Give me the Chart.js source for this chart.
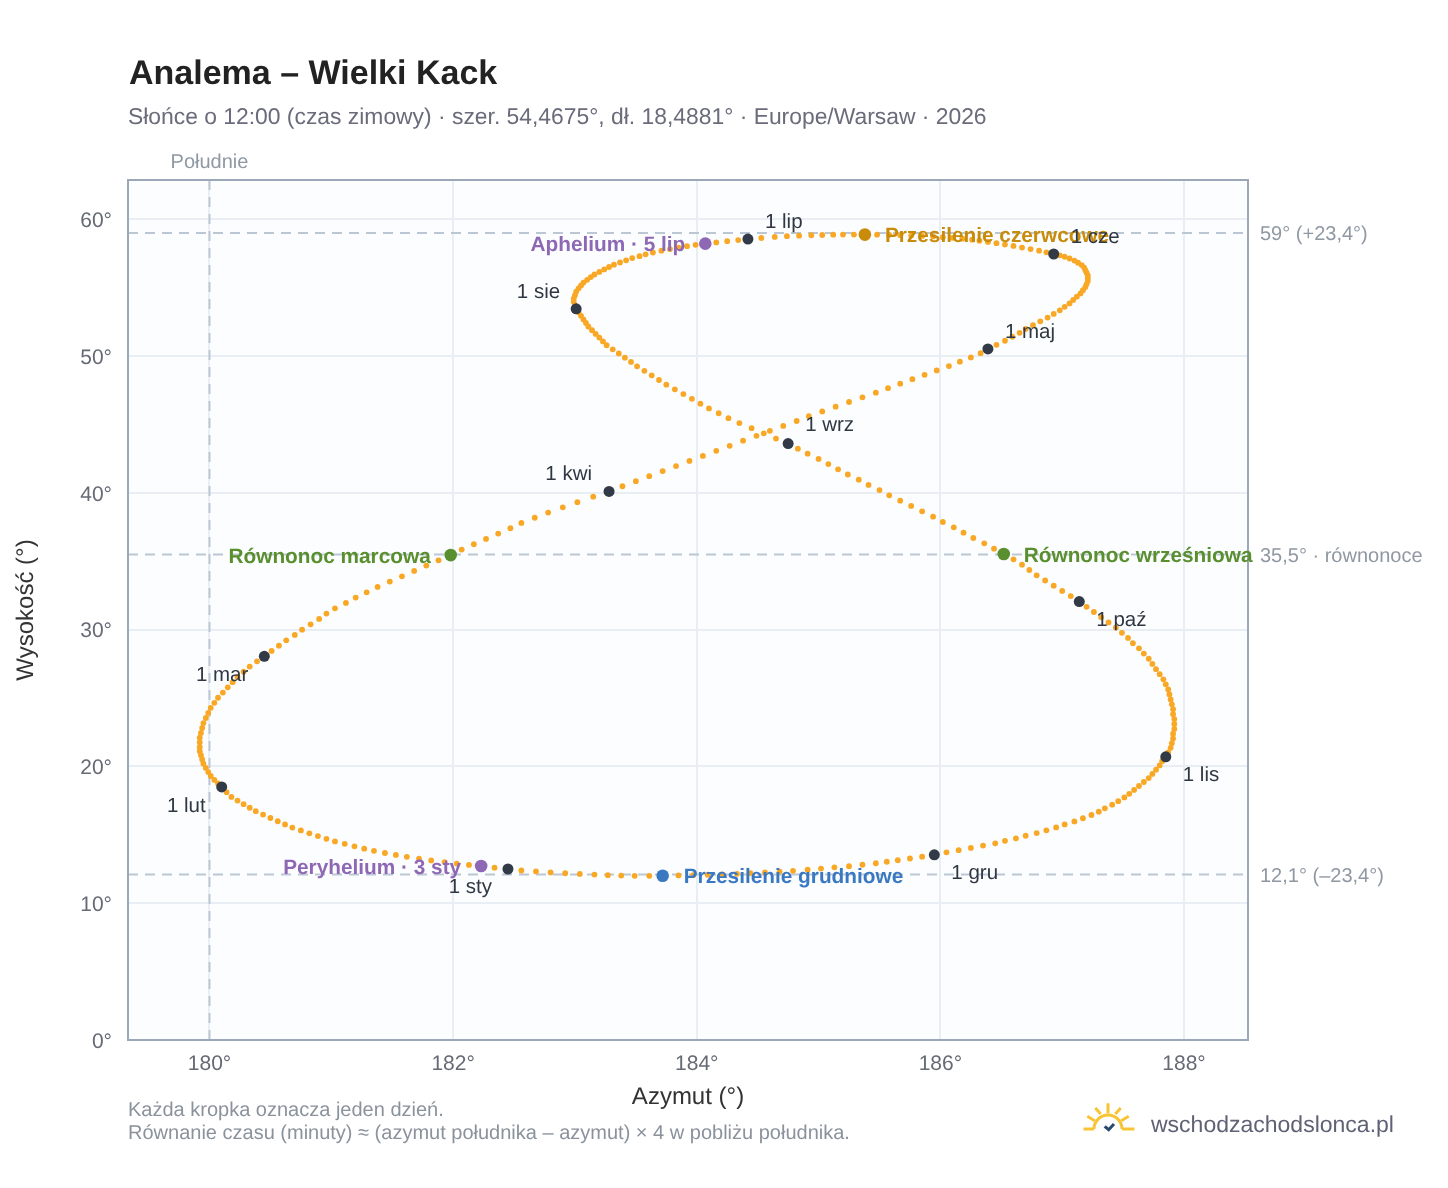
<!DOCTYPE html>
<html lang="pl">
<head>
<meta charset="utf-8">
<title>Analema – Wielki Kack</title>
<script src="https://cdn.jsdelivr.net/npm/chart.js@4/dist/chart.umd.min.js"></script>
<style>
  html, body { margin: 0; padding: 0; background: #ffffff; }
  body { width: 1448px; height: 1188px; position: relative; overflow: hidden; font-family: "Liberation Sans", Arial, sans-serif; text-rendering: geometricPrecision; }
  canvas { position: absolute; left: 0; top: 0; }
  .t { position: absolute; white-space: nowrap; line-height: 1; }
  #title { left: 129px; top: 56px; font-size: 34px; font-weight: 700; color: #222222; }
  #subtitle { left: 128px; top: 105px; font-size: 22.87px; color: #6b6c7b; }
  #note1 { left: 128px; top: 1100px; font-size: 20px; color: #8a929c; }
  #note2 { left: 128px; top: 1123px; font-size: 20px; color: #8a929c; }
  #brand { left: 1151px; top: 1113px; font-size: 23px; color: #5f6275; }
  #logo { position: absolute; left: 1080px; top: 1100px; }
</style>
</head>
<body>
<canvas id="chart" width="1448" height="1188"></canvas>
<div class="t" id="title">Analema – Wielki Kack</div>
<div class="t" id="subtitle">Słońce o 12:00 (czas zimowy) · szer. 54,4675°, dł. 18,4881° · Europe/Warsaw · 2026</div>
<div class="t" id="note1">Każda kropka oznacza jeden dzień.</div>
<div class="t" id="note2">Równanie czasu (minuty) ≈ (azymut południka – azymut) × 4 w pobliżu południka.</div>
<svg id="logo" width="60" height="36" viewBox="0 0 60 36" fill="none" stroke="#f9c433" stroke-width="3">
  <path d="M3.5 29H14M42 29H54.5M14 29A14 14 0 0 1 42 29"/>
  <path d="M28 3.3V13.3M15.3 8L20.7 14M40.7 8L35.3 14M7.3 16.3L14.7 20.7M48.7 16.3L41.3 20.7"/>
  <path d="M24.7 26.3L28.7 29.7L34 24" stroke="#2a4a6b"/>
</svg>
<div class="t" id="brand">wschodzachodslonca.pl</div>
<script>
// Solar azimuth at 12:00 winter time, one value per day of 2026 (January to December).
const azimuth = [
  182.45,182.34,182.23,182.13,182.03,181.93,181.82,181.72,181.62,181.53,181.44,181.35,181.27,181.19,181.11,181.03,180.96,180.89,180.82,180.75,180.68,180.62,180.56,180.50,180.44,180.38,180.33,180.28,180.23,180.18,180.14,
  180.10,180.07,180.04,180.01,179.99,179.97,179.95,179.94,179.93,179.92,179.92,179.92,179.92,179.93,179.94,179.95,179.97,179.99,180.01,180.04,180.07,180.11,180.15,180.19,180.23,180.28,180.33,180.39,
  180.45,180.51,180.57,180.63,180.70,180.76,180.83,180.90,180.96,181.03,181.12,181.20,181.29,181.38,181.48,181.58,181.68,181.78,181.88,181.98,182.07,182.17,182.27,182.37,182.47,182.56,182.67,182.78,182.90,183.02,183.15,
  183.28,183.39,183.50,183.61,183.72,183.83,183.94,184.05,184.16,184.27,184.38,184.49,184.60,184.71,184.82,184.92,185.03,185.14,185.25,185.36,185.47,185.57,185.67,185.77,185.87,185.97,186.07,186.16,186.25,186.33,
  186.39,186.46,186.53,186.59,186.65,186.70,186.76,186.82,186.88,186.93,186.98,187.02,187.06,187.09,187.12,187.15,187.17,187.19,187.20,187.21,187.21,187.21,187.20,187.19,187.18,187.16,187.13,187.10,187.06,187.02,186.98,
  186.93,186.87,186.81,186.74,186.67,186.60,186.53,186.46,186.39,186.32,186.26,186.18,186.10,186.02,185.94,185.85,185.76,185.67,185.58,185.48,185.38,185.29,185.20,185.12,185.03,184.94,184.84,184.74,184.64,184.53,
  184.42,184.34,184.25,184.16,184.07,183.99,183.92,183.85,183.78,183.71,183.64,183.58,183.53,183.47,183.42,183.37,183.32,183.28,183.24,183.20,183.16,183.13,183.10,183.07,183.05,183.03,183.01,183.00,182.99,182.99,183.00,
  183.01,183.03,183.05,183.07,183.09,183.11,183.14,183.17,183.20,183.23,183.26,183.31,183.36,183.41,183.46,183.51,183.57,183.63,183.69,183.75,183.82,183.89,183.96,184.03,184.10,184.18,184.26,184.35,184.45,184.55,184.65,
  184.75,184.83,184.91,185.00,185.08,185.16,185.24,185.33,185.41,185.50,185.58,185.67,185.76,185.85,185.94,186.02,186.11,186.19,186.27,186.36,186.44,186.52,186.60,186.67,186.73,186.79,186.86,186.93,187.00,187.07,
  187.14,187.20,187.26,187.32,187.38,187.44,187.49,187.54,187.58,187.63,187.67,187.71,187.74,187.77,187.80,187.83,187.85,187.87,187.88,187.89,187.90,187.91,187.91,187.92,187.92,187.92,187.91,187.91,187.90,187.89,187.87,
  187.85,187.82,187.80,187.77,187.74,187.71,187.67,187.63,187.59,187.55,187.51,187.46,187.41,187.35,187.30,187.24,187.17,187.10,187.02,186.95,186.87,186.79,186.70,186.62,186.53,186.45,186.35,186.25,186.15,186.05,
  185.95,185.85,185.75,185.65,185.56,185.47,185.36,185.25,185.13,185.02,184.91,184.79,184.68,184.56,184.44,184.33,184.21,184.09,183.97,183.85,183.72,183.61,183.49,183.38,183.27,183.16,183.04,182.92,182.80,182.68,182.56
];

// Solar altitude for the same days.
const altitude = [
  12.50,12.60,12.72,12.80,12.90,13.01,13.13,13.26,13.39,13.53,13.67,13.83,13.99,14.16,14.34,14.52,14.71,14.91,15.11,15.32,15.53,15.76,15.99,16.23,16.48,16.73,16.98,17.24,17.50,17.77,18.12,
  18.50,18.75,19.01,19.30,19.59,19.89,20.20,20.51,20.82,21.11,21.40,21.75,22.10,22.45,22.81,23.17,23.54,23.91,24.28,24.65,25.02,25.40,25.78,26.16,26.54,26.92,27.30,27.68,
  28.05,28.44,28.83,29.22,29.61,30.00,30.39,30.78,31.17,31.56,31.95,32.34,32.73,33.12,33.51,33.90,34.29,34.68,35.07,35.45,35.85,36.24,36.63,37.02,37.41,37.80,38.18,38.56,38.94,39.32,39.72,
  40.10,40.48,40.85,41.22,41.59,41.96,42.33,42.70,43.07,43.44,43.81,44.17,44.53,44.89,45.25,45.60,45.95,46.30,46.64,46.98,47.32,47.65,47.98,48.31,48.63,48.95,49.27,49.59,49.90,50.21,
  50.52,50.82,51.12,51.41,51.70,51.98,52.26,52.54,52.81,53.08,53.34,53.60,53.85,54.10,54.34,54.58,54.81,55.04,55.26,55.48,55.69,55.89,56.09,56.28,56.47,56.65,56.82,56.98,57.13,57.26,57.36,
  57.46,57.58,57.70,57.82,57.93,58.05,58.15,58.25,58.34,58.43,58.51,58.58,58.64,58.69,58.74,58.78,58.81,58.84,58.86,58.87,58.88,58.88,58.88,58.87,58.85,58.83,58.80,58.76,58.71,58.63,
  58.55,58.48,58.40,58.31,58.22,58.13,58.03,57.93,57.82,57.70,57.57,57.44,57.30,57.16,57.00,56.84,56.68,56.51,56.33,56.15,55.96,55.77,55.57,55.37,55.16,54.95,54.70,54.45,54.20,53.95,53.70,
  53.45,53.20,52.94,52.68,52.42,52.16,51.89,51.62,51.35,51.07,50.79,50.49,50.19,49.88,49.57,49.25,48.92,48.59,48.25,47.91,47.57,47.22,46.87,46.52,46.17,45.82,45.46,45.10,44.73,44.35,43.97,
  43.60,43.23,42.86,42.48,42.10,41.72,41.34,40.96,40.58,40.20,39.82,39.43,39.04,38.65,38.26,37.87,37.48,37.09,36.70,36.31,35.92,35.53,35.14,34.75,34.36,33.97,33.59,33.21,32.83,32.45,
  32.05,31.67,31.29,30.91,30.53,30.15,29.77,29.39,29.01,28.63,28.25,27.87,27.49,27.11,26.74,26.37,26.00,25.63,25.26,24.90,24.54,24.18,23.82,23.46,23.10,22.74,22.39,22.04,21.70,21.36,21.02,
  20.70,20.38,20.07,19.76,19.45,19.15,18.86,18.57,18.28,18.00,17.73,17.46,17.20,16.94,16.69,16.45,16.21,15.98,15.76,15.54,15.33,15.13,14.93,14.74,14.56,14.38,14.21,14.04,13.88,13.72,
  13.54,13.40,13.27,13.14,13.03,12.92,12.81,12.71,12.62,12.53,12.45,12.37,12.31,12.25,12.20,12.15,12.11,12.08,12.05,12.03,12.01,12.00,12.00,12.02,12.05,12.09,12.14,12.19,12.25,12.32,12.39
];

// First of each month: label, position, label anchor.
const monthLabels = ["1 sty","1 lut","1 mar","1 kwi","1 maj","1 cze","1 lip","1 sie","1 wrz","1 paź","1 lis","1 gru"];
const monthAz  = [182.45,180.10,180.45,183.28,186.39,186.93,184.42,183.01,184.75,187.14,187.85,185.95];
const monthAlt = [12.50,18.50,28.05,40.10,50.52,57.46,58.55,53.45,43.60,32.05,20.70,13.54];
const monthDx  = [-16,-16,-16,-17,17,17,17,-16,17,17,17,17];
const monthDy  = [17,18,18,-18,-18,-18,-18,-18,-19,18,17,18];

// Named events along the curve.
const eventLabels = ["Peryhelium · 3 sty","Równonoc marcowa","Przesilenie czerwcowe","Aphelium · 5 lip","Równonoc wrześniowa","Przesilenie grudniowe"];
const eventAz  = [182.23,181.98,185.38,184.07,186.52,183.72];
const eventAlt = [12.72,35.45,58.88,58.22,35.53,12.01];
const eventColors = ["#8e68b5","#5a8f2f","#c98b0a","#8e68b5","#5a8f2f","#3a78c2"];
const eventDx  = [-20,-20,20,-20,20,21];

// Reference lines and their captions.
const refAltitudes = [59, 35.5, 12.1];
const refCaptions  = ["59° (+23,4°)", "35,5° · równonoce", "12,1° (–23,4°)"];
const southAzimuth = 180;
const southCaption = "Południe";

const xTicks = [180, 182, 184, 186, 188];
const yTicks = [0, 10, 20, 30, 40, 50, 60];
const xRange = [179.331, 188.525];
const yRange = [0, 62.87];

const FONT = '"Liberation Sans", Arial, sans-serif';
const pairs = (xs, ys) => xs.map((x, i) => ({ x, y: ys[i] }));

const refLine = (points) => ({
  type: "line", data: points, showLine: true, pointRadius: 0, order: 10,
  borderColor: "#bcc7d4", borderWidth: 2, borderDash: [10, 7]
});

// Paints the plot background behind the grid.
const plotBackground = {
  id: "plotBackground",
  beforeDraw(chart) {
    const { ctx, chartArea: a } = chart;
    ctx.textRendering = "geometricPrecision";
    ctx.save();
    ctx.fillStyle = "#fbfdff";
    ctx.fillRect(a.left, a.top, a.right - a.left, a.bottom - a.top);
    ctx.restore();
  }
};

// Draws the frame, altitude tick labels, reference captions and the date and event labels.
const annotations = {
  id: "annotations",
  afterDatasetsDraw(chart) {
    const { ctx, chartArea: a, scales: { x, y } } = chart;
    ctx.save();
    ctx.strokeStyle = "#9aa8b7";
    ctx.lineWidth = 2;
    ctx.strokeRect(a.left, a.top, a.right - a.left, a.bottom - a.top);

    ctx.textBaseline = "middle";
    ctx.font = `21px ${FONT}`;
    ctx.fillStyle = "#666a75";
    ctx.textAlign = "right";
    y.ticks.forEach(t => ctx.fillText(t.value + "°", a.left - 16, y.getPixelForValue(t.value) + 2));

    ctx.font = `20px ${FONT}`;
    ctx.fillStyle = "#8f98a3";
    ctx.textAlign = "left";
    refAltitudes.forEach((v, i) => ctx.fillText(refCaptions[i], a.right + 12, y.getPixelForValue(v) + 2));
    ctx.textAlign = "center";
    ctx.fillText(southCaption, x.getPixelForValue(southAzimuth), a.top - 18);

    ctx.font = `bold 20.8px ${FONT}`;
    eventLabels.forEach((label, i) => {
      ctx.fillStyle = eventColors[i];
      ctx.textAlign = eventDx[i] < 0 ? "right" : "left";
      ctx.fillText(label, x.getPixelForValue(eventAz[i]) + eventDx[i], y.getPixelForValue(eventAlt[i]) + 2);
    });

    ctx.font = `20.5px ${FONT}`;
    ctx.fillStyle = "#2f3742";
    monthLabels.forEach((label, i) => {
      ctx.textAlign = monthDx[i] < 0 ? "right" : "left";
      ctx.fillText(label, x.getPixelForValue(monthAz[i]) + monthDx[i], y.getPixelForValue(monthAlt[i]) + monthDy[i] + 1);
    });
    ctx.restore();
  }
};

new Chart(document.getElementById("chart"), {
  type: "scatter",
  plugins: [plotBackground, annotations],
  data: {
    datasets: [
      ...refAltitudes.map(v => refLine([{ x: xRange[0], y: v }, { x: xRange[1], y: v }])),
      refLine([{ x: southAzimuth, y: yRange[0] }, { x: southAzimuth, y: yRange[1] }]),
      { data: pairs(azimuth, altitude), pointRadius: 2.9, pointBorderWidth: 0, backgroundColor: "#f9a825", order: 5 },
      { data: pairs(monthAz, monthAlt), pointRadius: 5.5, pointBorderWidth: 0, backgroundColor: "#323a47", order: 3 },
      { data: pairs(eventAz, eventAlt), pointRadius: 6.3, pointBorderWidth: 0, backgroundColor: eventColors, order: 2 }
    ]
  },
  options: {
    responsive: false,
    animation: false,
    devicePixelRatio: 1,
    layout: { padding: { left: 0, top: 180, right: 200, bottom: 76 } },
    plugins: { legend: { display: false }, tooltip: { enabled: false } },
    scales: {
      x: {
        type: "linear", min: xRange[0], max: xRange[1],
        afterBuildTicks(s) { s.ticks = xTicks.map(value => ({ value })); },
        afterFit(s) { s.height = 72; },
        grid: { color: "#e9eef4", lineWidth: 2, drawTicks: false },
        border: { display: false },
        ticks: { color: "#666a75", font: { family: FONT, size: 21 }, padding: 12, maxRotation: 0, callback: v => v + "°" },
        title: { display: true, text: "Azymut (°)", color: "#333333", font: { family: FONT, size: 24 }, padding: { top: 0, bottom: 0 } }
      },
      y: {
        type: "linear", min: yRange[0], max: yRange[1],
        afterBuildTicks(s) { s.ticks = yTicks.map(value => ({ value })); },
        afterFit(s) { s.width = 128; },
        grid: { color: "#e9eef4", lineWidth: 2, drawTicks: false },
        border: { display: false },
        ticks: { display: false },
        title: { display: true, text: "Wysokość (°)", color: "#333333", font: { family: FONT, size: 24 }, padding: { top: 12, bottom: 12 } }
      }
    }
  }
});
</script>
</body>
</html>
